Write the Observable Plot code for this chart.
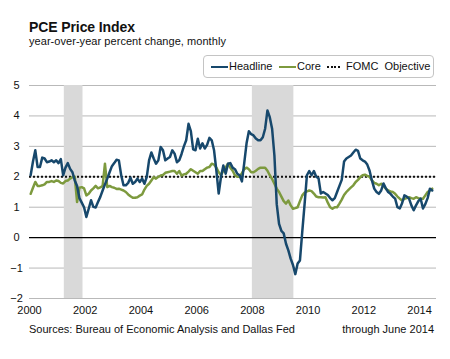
<!DOCTYPE html>
<html>
<head>
<meta charset="utf-8">
<script src="https://cdn.jsdelivr.net/npm/d3@7"></script>
<script src="https://cdn.jsdelivr.net/npm/@observablehq/plot@0.6"></script>
<style>
  html, body { margin: 0; padding: 0; background: #fff; }
  body { width: 450px; height: 359px; position: relative; overflow: hidden;
         font-family: "Liberation Sans", Arial, sans-serif; color: #000; }
  .abs { position: absolute; white-space: nowrap; line-height: 1; }
  #title { left: 29px; top: 20px; font-size: 14px; font-weight: bold; letter-spacing: -0.1px; color: #111; }
  #subtitle { left: 29px; top: 36px; font-size: 11px; letter-spacing: 0.05px; color: #111; }
  #legend { position: absolute; left: 203px; top: 55px; width: 231px; height: 23px;
            border: 1px solid #c4c4c4; border-radius: 4px; box-sizing: border-box; }
  .legtxt { position: absolute; top: 61px; font-size: 11px; line-height: 1; white-space: nowrap; color: #111; }
  .swatch { position: absolute; top: 66px; height: 2px; }
  #chart { position: absolute; left: 0; top: 80px; }
  .foot { position: absolute; top: 324px; font-size: 11px; line-height: 1; white-space: nowrap; color: #111; }
</style>
</head>
<body>
<div id="title" class="abs">PCE Price Index</div>
<div id="subtitle" class="abs">year-over-year percent change, monthly</div>
<div id="legend"></div>
<div id="legendItems"></div>
<div id="chart"></div>
<div class="foot" style="left:29px;">Sources: Bureau of Economic Analysis and Dallas Fed</div>
<div class="foot" style="right:16px;">through June 2014</div>
<script>
// ---- Data (monthly, Jan 2000 - Jun 2014) ----
const startYear = 2000;
const headline = [
  // 2000
  2.05, 2.5, 2.87, 2.32, 2.32, 2.63, 2.6, 2.48, 2.5, 2.54, 2.48, 2.54,
  // 2001
  2.45, 2.58, 2.05, 2.3, 2.45, 2.26, 2.15, 1.88, 1.7, 1.3, 1.15, 1.0,
  // 2002
  0.68, 0.95, 1.23, 1.01, 0.99, 1.17, 1.34, 1.55, 1.75, 1.94, 2.15, 2.35,
  // 2003
  2.45, 2.56, 2.54, 2.05, 1.72, 1.72, 1.8, 1.97, 1.77, 1.83, 1.94, 1.83,
  // 2004
  1.94, 1.77, 1.99, 2.54, 2.8, 2.6, 2.43, 2.54, 2.98, 2.87, 2.54, 2.6,
  // 2005
  2.65, 2.87, 2.76, 2.48, 2.54, 2.75, 3.0, 3.2, 3.74, 3.5, 2.9, 2.87,
  // 2006
  3.25, 2.93, 3.1, 2.93, 3.05, 3.28, 3.2, 2.87, 2.2, 1.45, 2.0, 2.37,
  // 2007
  2.1, 2.43, 2.45, 2.3, 2.25, 2.1, 2.05, 1.85, 2.45, 3.1, 3.5, 3.4,
  // 2008
  3.36, 3.26, 3.2, 3.2, 3.3, 3.58, 4.18, 3.96, 3.58, 2.7, 1.1, 0.45,
  // 2009
  0.22, 0.14, -0.2, -0.42, -0.69, -0.9, -1.2, -0.85, -0.75, 0.2, 1.1, 2.05,
  // 2010
  2.19, 2.05, 2.19, 2.0, 1.95, 1.45, 1.5, 1.45, 1.4, 1.3, 1.23, 1.3,
  // 2011
  1.5, 1.7, 1.9, 2.5, 2.6, 2.65, 2.7, 2.8, 2.89, 2.85, 2.6, 2.54,
  // 2012
  2.5, 2.4, 2.2, 1.88, 1.61, 1.5, 1.44, 1.55, 1.78, 1.62, 1.5, 1.44,
  // 2013
  1.35, 1.28, 1.0, 0.96, 1.13, 1.39, 1.35, 1.28, 1.06, 0.9, 1.06, 1.2,
  // 2014
  1.28, 0.96, 1.1, 1.3, 1.61, 1.55
];
const core = [
  // 2000
  1.44, 1.64, 1.83, 1.7, 1.7, 1.72, 1.75, 1.83, 1.83, 1.86, 1.83, 1.88,
  // 2001
  1.86, 1.8, 1.78, 1.86, 1.88, 1.94, 1.99, 2.0, 1.17, 1.64, 1.66, 1.62,
  // 2002
  1.39, 1.44, 1.55, 1.62, 1.7, 1.62, 1.65, 1.7, 2.43, 1.66, 1.7, 1.66,
  // 2003
  1.64, 1.6, 1.61, 1.58, 1.55, 1.5, 1.42, 1.36, 1.31, 1.31, 1.33, 1.38,
  // 2004
  1.42, 1.58, 1.7, 1.77, 1.88, 1.99, 1.94, 2.0, 2.04, 2.06, 2.13, 2.15,
  // 2005
  2.17, 2.19, 2.19, 2.1, 2.19, 2.04, 2.08, 2.1, 2.17, 2.25, 2.2, 2.15,
  // 2006
  2.1, 2.19, 2.19, 2.25, 2.3, 2.32, 2.43, 2.4, 2.3, 2.15, 2.05, 2.2,
  // 2007
  2.3, 2.43, 2.3, 2.2, 2.05, 2.0, 2.0, 2.12, 2.25, 2.3, 2.25, 2.15,
  // 2008
  2.15, 2.2, 2.26, 2.3, 2.3, 2.3, 2.2, 2.05, 1.93, 1.77, 1.61, 1.5,
  // 2009
  1.35, 1.2, 1.12, 1.22, 1.06, 0.95, 0.97, 1.0, 1.2, 1.39, 1.48, 1.52,
  // 2010
  1.55, 1.53, 1.45, 1.35, 1.33, 1.33, 1.32, 1.33, 1.15, 1.0, 0.95, 1.0,
  // 2011
  1.0, 1.12, 1.25, 1.4, 1.5, 1.58, 1.65, 1.72, 1.83, 1.9, 1.99, 2.05,
  // 2012
  2.07, 2.03, 2.0, 1.88, 1.8, 1.77, 1.72, 1.77, 1.7, 1.61, 1.55, 1.52,
  // 2013
  1.5, 1.44, 1.35, 1.28, 1.22, 1.28, 1.3, 1.33, 1.3, 1.28, 1.33, 1.3,
  // 2014
  1.28, 1.28, 1.39, 1.5, 1.55, 1.61
];
const fomcObjective = 2;
const recessionStart = [2001.25, 2008.0];
const recessionEnd = [2001.92, 2009.49];
const xTicks = [2000, 2002, 2004, 2006, 2008, 2010, 2012, 2014];
const yTicks = [-2, -1, 0, 1, 2, 3, 4, 5];
const gridValues = [-2, -1, 1, 2, 3, 4, 5];
const seriesNames = ["Headline", "Core", "FOMC  Objective"];
const headlineColor = "#17486c";
const coreColor = "#7d9a3e";

// ---- Build tables ----
const toRows = arr => arr.map((v, i) => ({t: startYear + (i + 0.5) / 12, v}));
const headlineRows = toRows(headline);
const coreRows = toRows(core);
const recessions = recessionStart.map((s, i) => ({start: s, end: recessionEnd[i]}));

const chart = Plot.plot({
  width: 450,
  height: 240,
  marginLeft: 29,
  marginRight: 14,
  marginTop: 5,
  marginBottom: 22,
  style: {fontFamily: "'Liberation Sans', Arial, sans-serif", fontSize: "11px", color: "#111", background: "transparent", overflow: "visible"},
  x: {domain: [2000, 2014.61]},
  y: {domain: [-2, 5]},
  marks: [
    Plot.ruleY(gridValues, {stroke: "#b9b9b9", strokeWidth: 1}),
    Plot.rect(recessions, {x1: "start", x2: "end", y1: -2, y2: 5, fill: "#d9d9d9"}),
    Plot.ruleY([0], {stroke: "#000", strokeWidth: 1.3}),
    Plot.ruleY([fomcObjective], {stroke: "#111", strokeWidth: 2, strokeDasharray: "2,2"}),
    Plot.line(coreRows, {x: "t", y: "v", stroke: coreColor, strokeWidth: 2.5, curve: "linear"}),
    Plot.line(headlineRows, {x: "t", y: "v", stroke: headlineColor, strokeWidth: 2.5, curve: "linear"}),
    Plot.axisX(xTicks, {tickSize: 0, tickPadding: 8, tickFormat: d => String(d), label: null}),
    Plot.axisY(yTicks, {tickSize: 0, tickPadding: 13, textAnchor: "middle", label: null})
  ]
});
document.getElementById("chart").appendChild(chart);

// ---- Legend ----
const legend = document.getElementById("legendItems");
const items = [
  {name: seriesNames[0], sx: 211, sw: 17, tx: 229, style: `background:${headlineColor};`},
  {name: seriesNames[1], sx: 279, sw: 17, tx: 297, style: `background:${coreColor};`},
  {name: seriesNames[2], sx: 327, sw: 13, tx: 346, style: `background: repeating-linear-gradient(90deg, #111 0 2px, transparent 2px 3.5px);`}
];
items.forEach(it => {
  const s = document.createElement("div");
  s.className = "swatch";
  s.style.cssText = `left:${it.sx}px;width:${it.sw}px;` + it.style;
  legend.appendChild(s);
  const t = document.createElement("div");
  t.className = "legtxt";
  t.style.left = it.tx + "px";
  t.style.whiteSpace = "pre";
  t.textContent = it.name;
  legend.appendChild(t);
});
</script>
</body>
</html>
